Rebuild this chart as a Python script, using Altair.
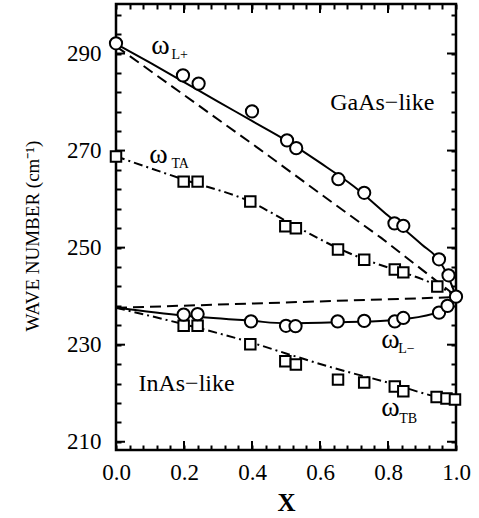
import altair as alt
import pandas as pd

# ---- measured points ----
lp_x = [0.0, 0.197, 0.243, 0.40, 0.503, 0.53, 0.654, 0.73, 0.819, 0.845, 0.95, 0.978, 1.0]
lp_y = [292.1, 285.5, 283.8, 278.1, 272.1, 270.5, 264.1, 261.3, 255.0, 254.5, 247.6, 244.3, 239.9]

ta_x = [0.0, 0.199, 0.24, 0.395, 0.498, 0.529, 0.653, 0.73, 0.82, 0.845, 0.945]
ta_y = [268.8, 263.6, 263.6, 259.5, 254.4, 254.0, 249.6, 247.5, 245.5, 244.9, 242.0]

lm_x = [0.199, 0.24, 0.397, 0.50, 0.528, 0.652, 0.73, 0.82, 0.845, 0.95, 0.975]
lm_y = [236.2, 236.3, 234.8, 233.9, 233.8, 234.8, 234.9, 234.8, 235.5, 236.6, 238.0]

tb_x = [0.199, 0.24, 0.395, 0.498, 0.529, 0.653, 0.73, 0.82, 0.845, 0.943, 0.972, 0.997]
tb_y = [233.9, 233.9, 230.1, 226.6, 225.9, 222.8, 222.2, 221.4, 220.4, 219.2, 218.9, 218.7]

# ---- fitted / theory curves ----
lp_line_x = [0.0, 0.1, 0.2, 0.3, 0.4, 0.5, 0.6, 0.7, 0.8, 0.9, 0.95, 0.975, 1.0]
lp_line_y = [292.0, 288.1, 284.1, 280.1, 276.1, 272.1, 267.5, 262.6, 256.6, 250.6, 247.4, 244.3, 240.0]

ta_line_x = [0.0, 0.2, 0.4, 0.5, 0.65, 0.73, 0.8, 0.9, 0.95, 1.0]
ta_line_y = [268.8, 264.0, 259.3, 255.5, 250.0, 247.6, 245.9, 243.5, 242.0, 240.0]

lm_line_x = [0.0, 0.2, 0.4, 0.5, 0.65, 0.8, 0.85, 0.95, 0.975, 1.0]
lm_line_y = [237.6, 236.0, 234.9, 234.4, 234.6, 235.0, 235.3, 236.8, 237.9, 239.8]

tb_line_x = [0.0, 0.2, 0.4, 0.5, 0.64, 0.82, 0.93, 1.0]
tb_line_y = [237.6, 234.2, 230.4, 228.2, 225.2, 221.8, 219.5, 218.6]

up_dash_x = [0.0, 0.42, 0.64, 0.78, 1.0]
up_dash_y = [291.5, 270.4, 259.1, 252.0, 240.0]

lo_dash_x = [0.0, 1.0]
lo_dash_y = [237.6, 239.8]

# ---- axis ticks ----
x_major = [0.0, 0.2, 0.4, 0.6, 0.8, 1.0]
x_minor = [round(0.04 * i, 2) for i in range(26)]
y_major = [210, 230, 250, 270, 290]
y_minor = list(range(210, 300, 4))

W, H = 340, 446
XD = [0.0, 1.0]
YD = [208.3, 300.2]
TS = 5  # inward tick length drawn by the axes

xs = alt.Scale(domain=XD, nice=False, zero=False, padding=0)
ys = alt.Scale(domain=YD, nice=False, zero=False, padding=0)

X_LABEL = "abs(datum.value*5 - round(datum.value*5)) < 0.001 ? format(datum.value, '.1f') : ''"
Y_LABEL = "(datum.value - 210) % 20 == 0 ? datum.label : ''"


def df(x, y):
    return pd.DataFrame({"x": x, "y": y})


def line(x, y, dash=None, interp="monotone"):
    kw = dict(color="black", strokeWidth=2, interpolate=interp, clip=True)
    if dash:
        kw["strokeDash"] = dash
    return alt.Chart(df(x, y)).mark_line(**kw).encode(
        x=alt.X("x:Q", scale=xs, axis=None), y=alt.Y("y:Q", scale=ys, axis=None))


def pts(x, y, shape, size):
    return alt.Chart(df(x, y)).mark_point(
        shape=shape, filled=True, fill="white", stroke="black",
        strokeWidth=2, size=size, opacity=1).encode(
        x=alt.X("x:Q", scale=xs, axis=None), y=alt.Y("y:Q", scale=ys, axis=None))


tick_common = dict(ticks=True, tickSize=TS, tickWidth=2, tickColor="black",
                   offset=-TS, domain=False, grid=False, labelFlush=False,
                   labelOverlap=False)

# bottom / left axes: inward ticks + labels
base = alt.Chart(df(lp_x, lp_y)).mark_point(opacity=0).encode(
    x=alt.X("x:Q", scale=xs, title="X",
            axis=alt.Axis(orient="bottom", values=x_minor, labelExpr=X_LABEL,
                          labelFont="Liberation Serif", labelFontSize=23,
                          labelColor="black", labelPadding=11,
                          titleFont="Liberation Serif", titleFontSize=25,
                          titleFontWeight="bold", titleColor="black", titlePadding=6,
                          **tick_common)),
    y=alt.Y("y:Q", scale=ys, title=None,
            axis=alt.Axis(orient="left", values=y_minor, labelExpr=Y_LABEL,
                          labelFont="Liberation Serif", labelFontSize=23,
                          labelColor="black", labelPadding=15, **tick_common)),
)

# top / right axes: inward ticks only
mirror = alt.Chart(df(lp_x, lp_y)).mark_point(opacity=0).encode(
    x=alt.X("x:Q", scale=xs, title=None,
            axis=alt.Axis(orient="top", values=x_minor, labels=False, **tick_common)),
    y=alt.Y("y:Q", scale=ys, title=None,
            axis=alt.Axis(orient="right", values=y_minor, labels=False, **tick_common)),
)


def xticks(vals, length):
    d = pd.DataFrame({"v": vals})
    out = []
    for ypos in (H - length / 2, length / 2):
        out.append(alt.Chart(d).mark_tick(
            color="black", size=length, thickness=2, opacity=1, orient="vertical").encode(
            x=alt.X("v:Q", scale=xs, axis=None), y=alt.value(ypos)))
    return out


def yticks(vals, length):
    d = pd.DataFrame({"v": vals})
    out = []
    for xpos in (length / 2, W - length / 2):
        out.append(alt.Chart(d).mark_tick(
            color="black", size=length, thickness=2, opacity=1, orient="horizontal").encode(
            y=alt.Y("v:Q", scale=ys, axis=None), x=alt.value(xpos)))
    return out


# annotations (data coordinates)
omega_txt = pd.DataFrame({
    "x": [0.104, 0.098, 0.780, 0.780],
    "y": [290.0, 267.4, 229.3, 215.3],
    "t": ["ω", "ω", "ω", "ω"],
})
sub_txt = pd.DataFrame({
    "x": [0.163, 0.163, 0.830, 0.833],
    "y": [288.9, 266.4, 228.2, 213.9],
    "t": ["L+", "TA", "L−", "TB"],
})
region_txt = pd.DataFrame({
    "x": [0.63, 0.066],
    "y": [278.3, 220.4],
    "t": ["GaAs−like", "InAs−like"],
})
ytitle_txt = pd.DataFrame({"t": ["WAVE  NUMBER (cm⁻¹)"]})


def txt(d, size):
    return alt.Chart(d).mark_text(
        font="Liberation Serif", fontSize=size, align="left", baseline="alphabetic",
        color="black").encode(x=alt.X("x:Q", scale=xs, axis=None),
                              y=alt.Y("y:Q", scale=ys, axis=None), text="t:N")


ytitle = alt.Chart(ytitle_txt).mark_text(
    font="Liberation Serif", fontSize=19, align="center", baseline="middle",
    angle=270, color="black").encode(x=alt.value(-83), y=alt.value(232), text="t:N")

layers = [base, mirror]
layers += xticks(x_major, 9) + yticks(y_major, 9)
layers += [
    line(up_dash_x, up_dash_y, dash=[11, 6], interp="linear"),
    line(lo_dash_x, lo_dash_y, dash=[11, 6], interp="linear"),
    line(lp_line_x, lp_line_y),
    line(lm_line_x, lm_line_y),
    line(ta_line_x, ta_line_y, dash=[9, 4, 2, 4]),
    line(tb_line_x, tb_line_y, dash=[9, 4, 2, 4]),
    pts(ta_x, ta_y, "square", 110),
    pts(tb_x, tb_y, "square", 110),
    pts(lp_x, lp_y, "circle", 150),
    pts(lm_x, lm_y, "circle", 150),
    txt(omega_txt, 28), txt(sub_txt, 14), txt(region_txt, 24), ytitle,
]

chart = alt.layer(*layers).resolve_axis(x="independent", y="independent").properties(
    width=W, height=H,
    autosize=alt.AutoSizeParams(type="none"),
    padding={"left": 116, "top": 4, "right": 479 - 116 - W, "bottom": 518 - 4 - H},
    background="white",
).configure_view(stroke="black", strokeWidth=2.5)

chart.save("out.html", embed_options={"renderer": "svg", "actions": False})
